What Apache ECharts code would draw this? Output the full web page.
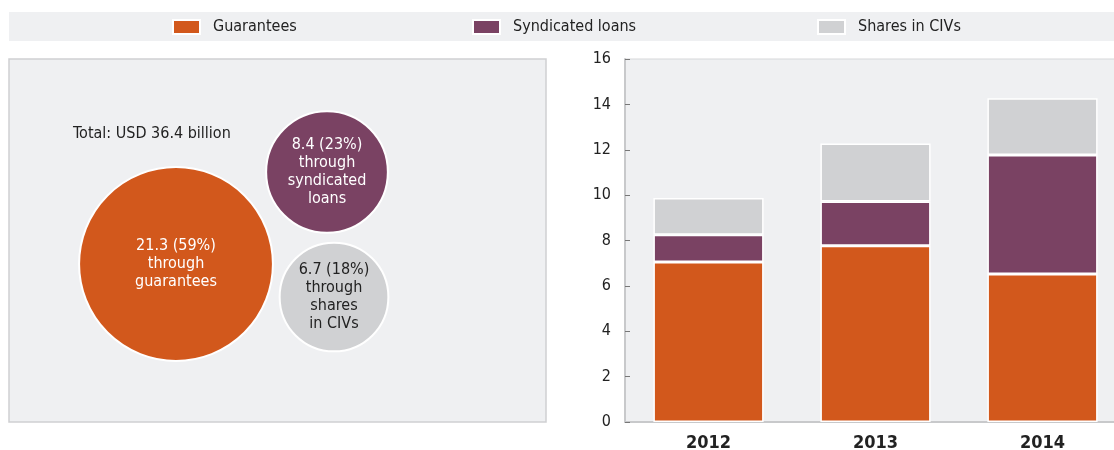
<!DOCTYPE html>
<html><head><meta charset="utf-8">
<script src="https://cdn.jsdelivr.net/npm/echarts@6/dist/echarts.min.js"></script>
<style>html,body{margin:0;padding:0;background:#fff}#c{width:1114px;height:450px}</style>
</head><body><div id="c"></div>
<script>
// ---- data ----
const years = ['2012', '2013', '2014'];
const guarantees = [7.05, 7.77, 6.52];
const syndicated = [1.2, 1.95, 5.25];
const shares = [1.62, 2.55, 2.5];
const bubbleNames = ['guarantees', 'syndicated loans', 'shares in CIVs'];
const bubbleLabels = [['through', 'guarantees'], ['through', 'syndicated', 'loans'], ['through', 'shares', 'in CIVs']];
const bubbleValues = [21.3, 8.4, 6.7];
const yTicks = [0, 2, 4, 6, 8, 10, 12, 14, 16];
// ---- layout (bubble centres in panel units) ----
const bubblePos = [[167, 205], [318, 113], [325, 238]];

const FONT = '"Liberation Sans Narrow", "DejaVu Sans Condensed", "Arial Narrow", sans-serif';
const C = ['#d2581c', '#7a4263', '#d0d1d3'];
const total = bubbleValues.reduce((a, b) => a + b, 0);

const chart = echarts.init(document.getElementById('c'), null, {renderer: 'canvas'});
const legendBase = {top: 19, itemWidth: 27, itemHeight: 14, itemGap: 0, icon: 'rect',
  textStyle: {fontFamily: FONT, fontSize: 16, color: '#222', padding: [0, 0, 0, 8]}, padding: 0};
const barSeries = (name, data, color) => ({name: name, data: data, type: 'bar', stack: 'a', barWidth: '66%',
  xAxisIndex: 1, yAxisIndex: 1, itemStyle: {color: color, borderColor: '#fff', borderWidth: 1.5}});

chart.setOption({
  animation: false,
  textStyle: {fontFamily: FONT},
  graphic: [{type: 'rect', shape: {x: 9, y: 12, width: 1105, height: 29}, style: {fill: '#eff0f2'}, z: -10}],
  legend: [
    Object.assign({left: 172, data: ['Guarantees']}, legendBase),
    Object.assign({left: 472, data: ['Syndicated loans']}, legendBase),
    Object.assign({left: 817, data: ['Shares in CIVs']}, legendBase)
  ],
  title: {text: 'Total: USD ' + total.toFixed(1) + ' billion', left: 68, top: 121,
    textStyle: {fontFamily: FONT, fontSize: 16, fontWeight: 'normal', color: '#222'}},
  grid: [
    {left: 9, top: 59, width: 537, height: 363, show: true, backgroundColor: '#eff0f2', borderColor: '#cfd0d2', borderWidth: 1.5, outerBoundsMode: 'none'},
    {left: 625, width: 501, top: 59, height: 363, show: true, backgroundColor: '#eff0f2', borderColor: '#d6d7d9', borderWidth: 1, outerBoundsMode: 'none'}
  ],
  xAxis: [
    {gridIndex: 0, type: 'value', min: 0, max: 537, show: false},
    {gridIndex: 1, type: 'category', data: years,
      axisLine: {lineStyle: {color: '#c8c9cb', width: 2}},
      axisTick: {inside: true, length: 6, interval: 0, lineStyle: {color: '#555'}},
      axisLabel: {fontFamily: FONT, fontSize: 18, fontWeight: 'bold', color: '#222', margin: 12}}
  ],
  yAxis: [
    {gridIndex: 0, type: 'value', min: 0, max: 363, inverse: true, show: false},
    {gridIndex: 1, type: 'value', min: yTicks[0], max: yTicks[yTicks.length - 1], interval: 2,
      axisLine: {show: true, lineStyle: {color: '#c8c9cb', width: 2}},
      axisTick: {show: true, inside: true, length: 5, lineStyle: {color: '#777'}},
      splitLine: {show: false},
      axisLabel: {fontFamily: FONT, fontSize: 16, color: '#222', margin: 14}}
  ],
  series: [
    barSeries('Guarantees', guarantees, C[0]),
    barSeries('Syndicated loans', syndicated, C[1]),
    barSeries('Shares in CIVs', shares, C[2]),
    {type: 'scatter', xAxisIndex: 0, yAxisIndex: 0, silent: true,
      symbolSize: (val, p) => 42 * Math.sqrt(bubbleValues[p.dataIndex]),
      data: bubbleValues.map((v, i) => ({name: bubbleNames[i], value: [bubblePos[i][0], bubblePos[i][1], v],
        itemStyle: {color: C[i], opacity: 1, borderColor: '#fff', borderWidth: 2},
        label: {color: i === 2 ? '#222' : '#fff'}})),
      label: {show: true, position: 'inside', fontFamily: FONT, fontSize: 16, lineHeight: 18, align: 'center',
        formatter: p => v2s(p.dataIndex)}
    }
  ]
});
function v2s(i) {
  const v = bubbleValues[i];
  return [v.toFixed(1) + ' (' + Math.round(v / total * 100) + '%)'].concat(bubbleLabels[i]).join('\n');
}
</script></body></html>
